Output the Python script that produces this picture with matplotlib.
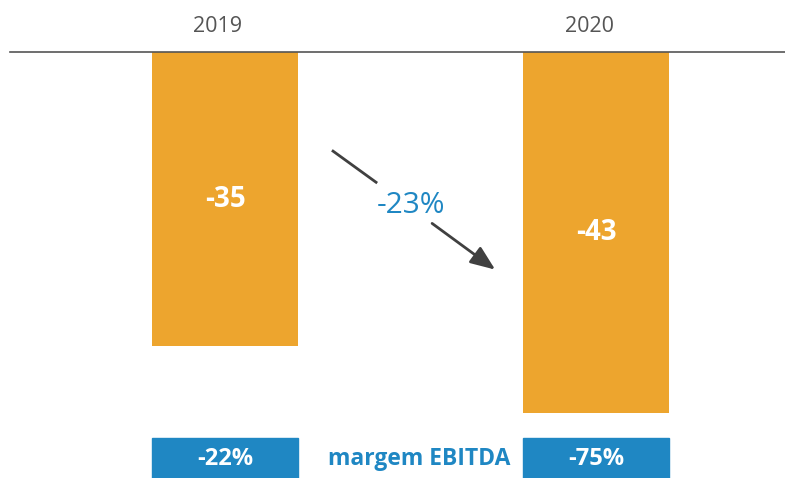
import numpy as np
import matplotlib.pyplot as plt
import matplotlib.transforms as mtransforms
from matplotlib.patches import Rectangle

plt.rcParams['font.family'] = ['Open Sans', 'DejaVu Sans']

years = ["2019", "2020"]
ebitda = [-35, -43]
margins = ["-22%", "-75%"]
change_label = "-23%"
margin_title = "margem EBITDA"

ORANGE = "#EDA52E"
BLUE = "#1F87C3"
GRAY = "#555555"

W, H = 785, 478
fig = plt.figure(figsize=(W / 100, H / 100), dpi=100)
ax = fig.add_axes([10 / W, 0, 775 / W, 426 / H])

x = np.arange(len(years))
bw = 0.3935
ax.bar(x, ebitda, width=bw, color=ORANGE)
for xi, v in zip(x, ebitda):
    ax.text(xi, v / 2, f"{v}", ha="center", va="center", color="white",
            fontsize=20, fontweight="bold")

ax.set_xlim(-0.5795, 1.509)
ax.set_ylim(-50.7, 0)

# top line + year labels
for s in ["left", "right", "bottom"]:
    ax.spines[s].set_visible(False)
ax.spines["top"].set_color(GRAY)
ax.spines["top"].set_linewidth(1.2)
ax.xaxis.tick_top()
ax.set_xticks(x)
ax.set_xticklabels(years, fontsize=15.5, color=GRAY)
ax.tick_params(axis="x", length=0, pad=11)
shift = mtransforms.ScaledTranslation(-7 / 100, 0, fig.dpi_scale_trans)
for lbl in ax.get_xticklabels():
    lbl.set_transform(lbl.get_transform() + shift)
ax.set_yticks([])

# change arrow, broken around the label
ax.plot([0.288, 0.41], [-11.7, -15.6], color="#404040", lw=2, solid_capstyle="butt")
ax.annotate("", xy=(0.728, -25.9), xytext=(0.558, -20.4),
            arrowprops=dict(arrowstyle="-|>,head_length=1.5,head_width=0.6",
                            color="#404040", lw=2, shrinkA=0, shrinkB=0))
ax.text(0.501, -18.3, change_label, ha="center", va="center", color=BLUE, fontsize=21.5)

# EBITDA margin boxes
trans = ax.get_xaxis_transform()
for xi, m in zip(x, margins):
    ax.add_patch(Rectangle((xi - bw / 2, 0), bw, 40 / 426, transform=trans,
                           color=BLUE, clip_on=False))
    ax.text(xi, 19 / 426, m, transform=trans, ha="center", va="center",
            color="white", fontsize=17, fontweight="bold")
ax.text(x.mean() + 9 / 371, 19 / 426, margin_title, transform=trans, ha="center",
        va="center", color=BLUE, fontsize=16.5, fontweight="bold")

fig.savefig("out.png", dpi=100)
